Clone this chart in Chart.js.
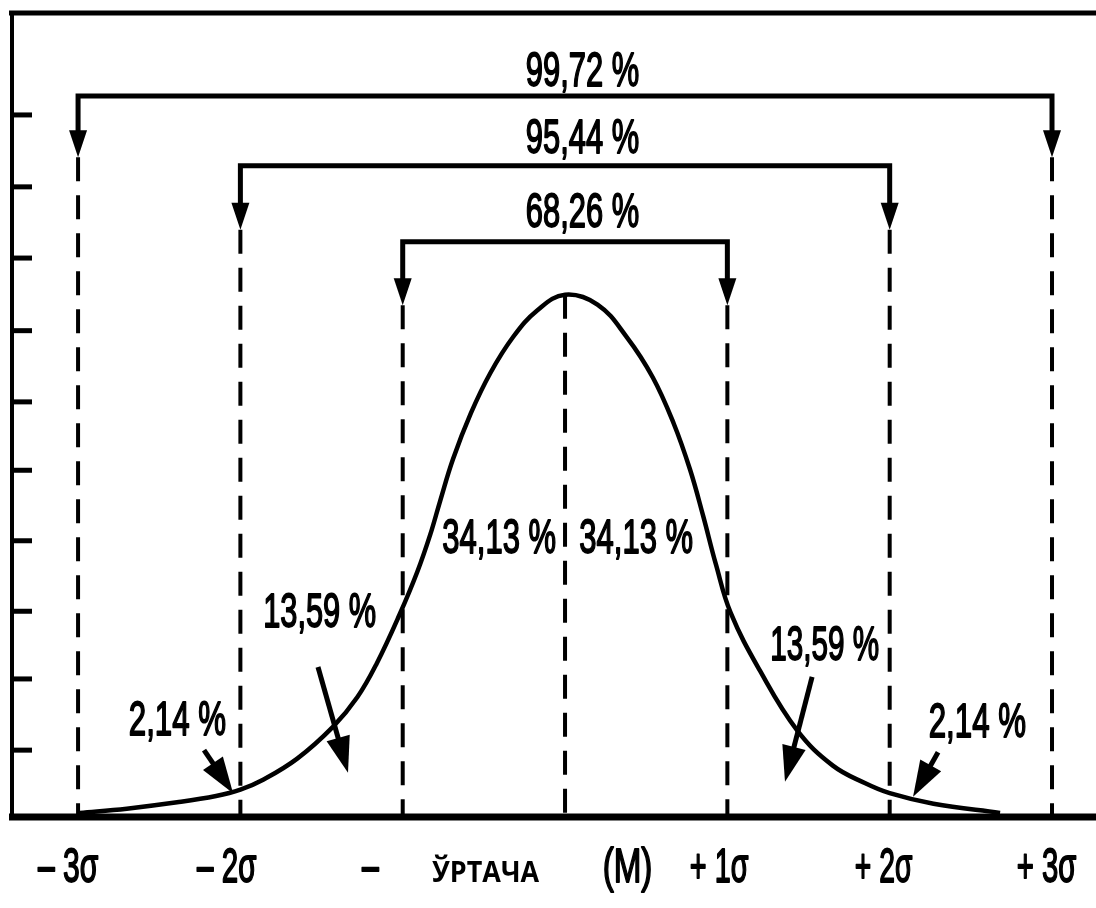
<!DOCTYPE html>
<html><head><meta charset="utf-8">
<script src="https://cdn.jsdelivr.net/npm/chart.js@4.4.1/dist/chart.umd.min.js"></script>
<style>html,body{margin:0;padding:0;background:#fff;}canvas{display:block;}</style>
</head><body>
<canvas id="c" width="1096" height="908" style="width:1096px;height:908px"></canvas>
<script>
// ---- data (x in sigma units, y in axis-tick units) ----
const curveX = [-2.99,-2.70,-2.39,-2.15,-2.00,-1.86,-1.65,-1.43,-1.28,-1.16,-1.02,-0.91,-0.83,-0.77,-0.69,-0.58,-0.46,-0.32,-0.17,0.00,0.20,0.38,0.54,0.67,0.77,0.85,0.93,1.02,1.20,1.43,1.65,1.85,2.00,2.27,2.68];
const curveY = [0.03,0.09,0.18,0.27,0.36,0.50,0.80,1.25,1.67,2.15,2.84,3.45,3.98,4.45,5.05,5.70,6.27,6.78,7.16,7.38,7.24,6.78,6.21,5.55,4.90,4.25,3.55,2.87,2.05,1.20,0.70,0.45,0.31,0.16,0.03];
const sigmaX = [-3,-2,-1,0,1,2,3];
const dashTop = [9.33,8.30,7.23,7.38,7.23,8.30,9.33];
const bracketSpan = [3,2,1];
const bracketPercents = ['99,72 %','95,44 %','68,26 %'];
const areaPercents = ['2,14 %','13,59 %','34,13 %','34,13 %','13,59 %','2,14 %'];
const axisLabels = ['– 3σ','– 2σ','–','ЎРТАЧА','(M)','+ 1σ','+ 2σ','+ 3σ'];
const yTicks = [0.92,1.93,2.89,3.89,4.89,5.86,6.87,7.90,8.91,9.93];

// ---- layout / style (positions in data units, sizes in px) ----
const bracketLevel = [10.20,9.21,8.13];
const arrowTip = [9.33,8.30,7.23];
const arrowLenPx = 27, arrowHalfW = 9;
const bracketLabelPos = [[0.108,10.34],[0.108,9.39],[0.108,8.34]];
const bracketLabelW = 111;
const areaLabelPos = [[-2.387,1.135,95],[-1.509,2.667,110],[-0.407,3.716,112],[0.437,3.716,112],[1.602,2.199,106],[2.541,1.106,95]];
const pointerArrows = [[-2.224,0.92,-2.045,0.31],[-1.522,2.10,-1.337,0.60],[1.522,1.96,1.355,0.47],[2.298,0.89,2.144,0.26]];
const axisLabelPos = [[-3.062,60],[-2.085,59],[-1.198,17],[-0.487,108],[0.385,47],[0.952,57],[1.965,56],[2.969,58]];
const axisLabelBase = -0.95;
const NUM_FONT = '48px "Liberation Sans Narrow", "Liberation Sans", Arial, sans-serif';
const CYR_FONT = 'bold 29px "Open Sans", "Noto Sans", sans-serif';

function fitText(ctx, text, cx, baseY, width, font, strokeW) {
  ctx.save();
  ctx.font = font;
  ctx.textAlign = 'left';
  ctx.textBaseline = 'alphabetic';
  const m = ctx.measureText(text);
  const w = m.actualBoundingBoxLeft + m.actualBoundingBoxRight;
  ctx.translate(cx - width / 2, baseY);
  ctx.scale(width / w, 1);
  ctx.fillStyle = '#000';
  ctx.fillText(text, m.actualBoundingBoxLeft, 0);
  if (strokeW) {
    ctx.strokeStyle = '#000'; ctx.lineWidth = strokeW; ctx.lineJoin = 'round';
    ctx.strokeText(text, m.actualBoundingBoxLeft, 0);
  }
  ctx.restore();
}

const datasets = [];
datasets.push({
  data: curveX.map((x, i) => ({x, y: curveY[i]})),
  borderColor: '#000', borderWidth: 4.5, pointRadius: 0,
  tension: 0.4, fill: false
});
sigmaX.forEach((sx, i) => {
  datasets.push({
    data: [{x: sx, y: dashTop[i]}, {x: sx, y: 0}],
    borderColor: '#000', borderWidth: 4, pointRadius: 0,
    borderDash: [24, 14], fill: false
  });
});

const decor = {
  id: 'decor',
  afterDatasetsDraw(chart) {
    const ctx = chart.ctx, xs = chart.scales.x, ys = chart.scales.y, a = chart.chartArea;
    ctx.save();
    ctx.strokeStyle = '#000'; ctx.fillStyle = '#000'; ctx.lineCap = 'butt';
    // frame
    ctx.lineWidth = 5;
    ctx.beginPath(); ctx.moveTo(9, a.top); ctx.lineTo(chart.width, a.top); ctx.stroke();
    ctx.lineWidth = 4;
    ctx.beginPath(); ctx.moveTo(a.left, a.top - 2); ctx.lineTo(a.left, a.bottom + 5); ctx.stroke();
    ctx.lineWidth = 7;
    ctx.beginPath(); ctx.moveTo(9, a.bottom + 2); ctx.lineTo(chart.width, a.bottom + 2); ctx.stroke();
    // y ticks (inward)
    ctx.lineWidth = 5;
    yTicks.forEach(v => {
      const py = ys.getPixelForValue(v);
      ctx.beginPath(); ctx.moveTo(a.left, py); ctx.lineTo(a.left + 20, py); ctx.stroke();
    });
    // brackets with arrowheads
    bracketSpan.forEach((s, k) => {
      const yl = ys.getPixelForValue(bracketLevel[k]);
      const yt = ys.getPixelForValue(arrowTip[k]);
      const yb = yt - arrowLenPx;
      const xl = xs.getPixelForValue(-s), xr = xs.getPixelForValue(s);
      ctx.lineWidth = 5; ctx.lineJoin = 'miter';
      ctx.beginPath(); ctx.moveTo(xl, yb + 2); ctx.lineTo(xl, yl); ctx.lineTo(xr, yl); ctx.lineTo(xr, yb + 2); ctx.stroke();
      [xl, xr].forEach(px => {
        ctx.beginPath(); ctx.moveTo(px - arrowHalfW, yb); ctx.lineTo(px + arrowHalfW, yb); ctx.lineTo(px, yt); ctx.closePath(); ctx.fill();
      });
      fitText(ctx, bracketPercents[k], xs.getPixelForValue(bracketLabelPos[k][0]), ys.getPixelForValue(bracketLabelPos[k][1]), bracketLabelW, NUM_FONT, 1.8);
    });
    // pointer arrows
    pointerArrows.forEach(p => {
      const x0 = xs.getPixelForValue(p[0]), y0 = ys.getPixelForValue(p[1]);
      const x1 = xs.getPixelForValue(p[2]), y1 = ys.getPixelForValue(p[3]);
      const dx = x1 - x0, dy = y1 - y0, L = Math.hypot(dx, dy), ux = dx / L, uy = dy / L;
      const hl = 36, hw = 12;
      const bx = x1 - ux * hl, by = y1 - uy * hl;
      ctx.lineWidth = 5;
      ctx.beginPath(); ctx.moveTo(x0, y0); ctx.lineTo(bx + ux * 2, by + uy * 2); ctx.stroke();
      ctx.beginPath();
      ctx.moveTo(x1, y1);
      ctx.lineTo(bx - uy * hw, by + ux * hw);
      ctx.lineTo(bx + uy * hw, by - ux * hw);
      ctx.closePath(); ctx.fill();
    });
    // area labels
    areaPercents.forEach((t, i) => {
      const p = areaLabelPos[i];
      fitText(ctx, t, xs.getPixelForValue(p[0]), ys.getPixelForValue(p[1]), p[2], NUM_FONT, 1.8);
    });
    // axis labels
    axisLabels.forEach((t, i) => {
      const p = axisLabelPos[i];
      const cyr = (t === 'ЎРТАЧА');
      fitText(ctx, t, xs.getPixelForValue(p[0]), ys.getPixelForValue(axisLabelBase), p[1], cyr ? CYR_FONT : NUM_FONT, cyr ? 0 : 1.8);
    });
    ctx.restore();
  }
};

new Chart(document.getElementById('c'), {
  type: 'line',
  data: { datasets },
  options: {
    responsive: false, animation: false, devicePixelRatio: 1,
    layout: { padding: { left: 12, top: 13, right: 0, bottom: 93 } },
    plugins: { legend: { display: false }, tooltip: { enabled: false } },
    scales: {
      x: { type: 'linear', min: -3.407, max: 3.271, display: false },
      y: { type: 'linear', min: 0, max: 11.376, display: false }
    }
  },
  plugins: [decor]
});
</script>
</body></html>
